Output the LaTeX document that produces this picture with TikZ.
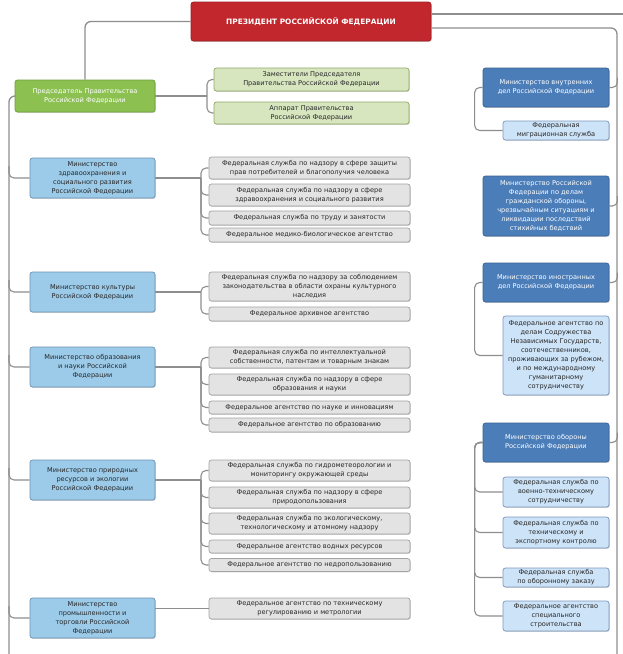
\documentclass[tikz,border=0pt]{standalone}
\usepackage{fontspec}
\setmainfont{DejaVu Sans}
\usetikzlibrary{shadows}
\definecolor{presred}{HTML}{C1272D}
\definecolor{presborder}{HTML}{9E1F24}
\definecolor{chairgreen}{HTML}{8CC152}
\definecolor{chairborder}{HTML}{6E9E3C}
\definecolor{lgreen}{HTML}{D8E6C0}
\definecolor{lgreenborder}{HTML}{8FAA66}
\definecolor{minblue}{HTML}{9CCBEA}
\definecolor{minblueborder}{HTML}{6E92B0}
\definecolor{svcgray}{HTML}{E3E3E3}
\definecolor{svcborder}{HTML}{A3A3A3}
\definecolor{darkblue}{HTML}{4B7DB9}
\definecolor{darkblueborder}{HTML}{3A6496}
\definecolor{paleblue}{HTML}{CDE3F7}
\definecolor{paleblueborder}{HTML}{7C98BE}
\definecolor{linegray}{HTML}{8E8E8E}
\newcommand\smallfs{\fontsize{6.6}{9}\selectfont}
\tikzset{
  base/.style={rounded corners=2.5pt, align=center, inner sep=1pt, font=\smallfs,
    line width=0.7pt, drop shadow={shadow xshift=0.8pt, shadow yshift=-0.9pt, opacity=0.35}},
  presbox/.style={base, fill=presred, draw=presborder, text=white, font=\fontsize{7.4}{9}\selectfont\bfseries},
  chairbox/.style={base, fill=chairgreen, draw=chairborder, text=white},
  greenbox/.style={base, fill=lgreen, draw=lgreenborder, text=black!85},
  minbox/.style={base, fill=minblue, draw=minblueborder, text=black!85},
  svcbox/.style={base, fill=svcgray, draw=svcborder, text=black!85},
  rminbox/.style={base, fill=darkblue, draw=darkblueborder, text=white},
  rsubbox/.style={base, fill=paleblue, draw=paleblueborder, text=black!85},
  conn/.style={draw=linegray, line width=1.1pt, rounded corners=5pt},
  spine/.style={draw=linegray, line width=1.3pt, rounded corners=6pt}
}
\begin{document}
\begin{tikzpicture}[x=1pt,y=-1pt]
\useasboundingbox (0,0) rectangle (623,654);
\fill[white] (0,0) rectangle (623,654);

% President and chairman
\node[presbox, minimum width=240pt, minimum height=39pt] (pres) at (311,21.5) {ПРЕЗИДЕНТ РОССИЙСКОЙ ФЕДЕРАЦИИ};
\node[chairbox, minimum width=140pt, minimum height=32pt] (chair) at (85,96) {Председатель Правительства\\Российской Федерации};
\node[greenbox, minimum width=195pt, minimum height=23pt] (g1) at (311.5,79.5) {Заместители Председателя\\Правительства Российской Федерации};
\node[greenbox, minimum width=195pt, minimum height=22pt] (g2) at (311.5,113) {Аппарат Правительства\\Российской Федерации};

% Left ministries
\node[minbox, minimum width=125pt, minimum height=40pt] (m1) at (92.5,178) {Министерство\\здравоохранения и\\социального развития\\Российской Федерации};
\node[minbox, minimum width=125pt, minimum height=40pt] (m2) at (92.5,292) {Министерство культуры\\Российской Федерации};
\node[minbox, minimum width=125pt, minimum height=40pt] (m3) at (92.5,367) {Министерство образования\\и науки Российской\\Федерации};
\node[minbox, minimum width=125pt, minimum height=40pt] (m4) at (92.5,480) {Министерство природных\\ресурсов и экологии\\Российской Федерации};
\node[minbox, minimum width=125pt, minimum height=40pt] (m5) at (92.5,618) {Министерство\\промышленности и\\торговли Российской\\Федерации};

% Services
\node[svcbox, minimum width=201pt, minimum height=22pt] (s11) at (309.5,168) {Федеральная служба по надзору в сфере защиты\\прав потребителей и благополучия человека};
\node[svcbox, minimum width=201pt, minimum height=22pt] (s12) at (309.5,195) {Федеральная служба по надзору в сфере\\здравоохранения и социального развития};
\node[svcbox, minimum width=201pt, minimum height=14pt] (s13) at (309.5,218) {Федеральная служба по труду и занятости};
\node[svcbox, minimum width=201pt, minimum height=14pt] (s14) at (309.5,235) {Федеральное медико-биологическое агентство};

\node[svcbox, minimum width=201pt, minimum height=29pt] (s21) at (309.5,286.5) {Федеральная служба по надзору за соблюдением\\законодательства в области охраны культурного\\наследия};
\node[svcbox, minimum width=201pt, minimum height=14pt] (s22) at (309.5,314) {Федеральное архивное агентство};

\node[svcbox, minimum width=201pt, minimum height=21pt] (s31) at (309.5,357.5) {Федеральная служба по интеллектуальной\\собственности, патентам и товарным знакам};
\node[svcbox, minimum width=201pt, minimum height=21pt] (s32) at (309.5,384.5) {Федеральная служба по надзору в сфере\\образования и науки};
\node[svcbox, minimum width=201pt, minimum height=13pt] (s33) at (309.5,407.5) {Федеральное агентство по науке и инновациям};
\node[svcbox, minimum width=201pt, minimum height=14pt] (s34) at (309.5,425) {Федеральное агентство по образованию};

\node[svcbox, minimum width=201pt, minimum height=21pt] (s41) at (309.5,470.5) {Федеральная служба по гидрометеорологии и\\мониторингу окружающей среды};
\node[svcbox, minimum width=201pt, minimum height=21pt] (s42) at (309.5,497.5) {Федеральная служба по надзору в сфере\\природопользования};
\node[svcbox, minimum width=201pt, minimum height=21pt] (s43) at (309.5,523.5) {Федеральная служба по экологическому,\\технологическому и атомному надзору};
\node[svcbox, minimum width=201pt, minimum height=13pt] (s44) at (309.5,546.5) {Федеральное агентство водных ресурсов};
\node[svcbox, minimum width=201pt, minimum height=13pt] (s45) at (309.5,565) {Федеральное агентство по недропользованию};

\node[svcbox, minimum width=201pt, minimum height=21pt] (s51) at (309.5,608.5) {Федеральное агентство по техническому\\регулированию и метрологии};

% Right column
\node[rminbox, minimum width=126pt, minimum height=39pt] (r1) at (546,87.5) {Министерство внутренних\\дел Российской Федерации};
\node[rsubbox, minimum width=106pt, minimum height=19pt] (q1) at (556,130.5) {Федеральная\\миграционная служба};
\node[rminbox, minimum width=126pt, minimum height=60pt] (r2) at (546,206) {Министерство Российской\\Федерации по делам\\гражданской обороны,\\чрезвычайным ситуациям и\\ликвидации последствий\\стихийных бедствий};
\node[rminbox, minimum width=126pt, minimum height=39pt] (r3) at (546,282.5) {Министерство иностранных\\дел Российской Федерации};
\node[rsubbox, minimum width=106pt, minimum height=79pt] (q3) at (556,355.5) {Федеральное агентство по\\делам Содружества\\Независимых Государств,\\соотечественников,\\проживающих за рубежом,\\и по международному\\гуманитарному\\сотрудничеству};
\node[rminbox, minimum width=126pt, minimum height=39pt] (r4) at (546,442.5) {Министерство обороны\\Российской Федерации};
\node[rsubbox, minimum width=106pt, minimum height=30pt] (d1) at (556,492) {Федеральная служба по\\военно-техническому\\сотрудничеству};
\node[rsubbox, minimum width=106pt, minimum height=31pt] (d2) at (556,532.5) {Федеральная служба по\\техническому и\\экспортному контролю};
\node[rsubbox, minimum width=106pt, minimum height=19pt] (d3) at (556,577.5) {Федеральная служба\\по оборонному заказу};
\node[rsubbox, minimum width=106pt, minimum height=30pt] (d4) at (556,616) {Федеральное агентство\\специального\\строительства};

% Helper coordinates
\coordinate (y14) at (0,14);
\coordinate (y28) at (0,28);
\coordinate (topR) at (623,14);
\coordinate (rsBot) at (617,654);
\coordinate (lsBot) at (9,654);
\coordinate (bx) at (201,0);
\coordinate (gx) at (207,0);

% Top connectors
\draw[spine] (pres.west) -| (chair.north);
\draw[spine] (pres.east |- y14) -- (topR);
\draw[spine] (pres.east |- y28) -| (rsBot);
\draw[spine] (chair.west) -| (lsBot);

% Chairman to green boxes
\draw[conn] (chair.east) -- (chair.east -| gx);
\draw[conn] (chair.east -| gx) |- (g1.west);
\draw[conn] (chair.east -| gx) |- (g2.west);

% Left spine branches
\foreach \m in {m1,m2,m3,m4,m5}{
  \draw[conn] (\m.west -| lsBot) ++(0,-12) |- (\m.west);
}

% Ministry to services
\foreach \m/\list in {m1/{s11,s12,s13,s14}, m2/{s21,s22}, m3/{s31,s32,s33,s34}, m4/{s41,s42,s43,s44,s45}}{
  \draw[conn] (\m.east) -- (\m.east -| bx);
  \foreach \s in \list { \draw[conn] (\m.east -| bx) |- (\s.west); }
}
\draw[conn] (m5.east |- s51.west) -- (s51.west);

% Right column connectors
\foreach \r in {r1,r2,r3,r4}{
  \draw[conn] (\r.east) -| ++(8,-10);
}
\draw[conn] (r1.west) -- ++(-8,0) |- (q1.west);
\draw[conn] (r3.west) -- ++(-8,0) |- (q3.west);
\foreach \d in {d1,d2,d3,d4}{
  \draw[conn] (r4.west) -- ++(-8,0) |- (\d.west);
}
\end{tikzpicture}
\end{document}
